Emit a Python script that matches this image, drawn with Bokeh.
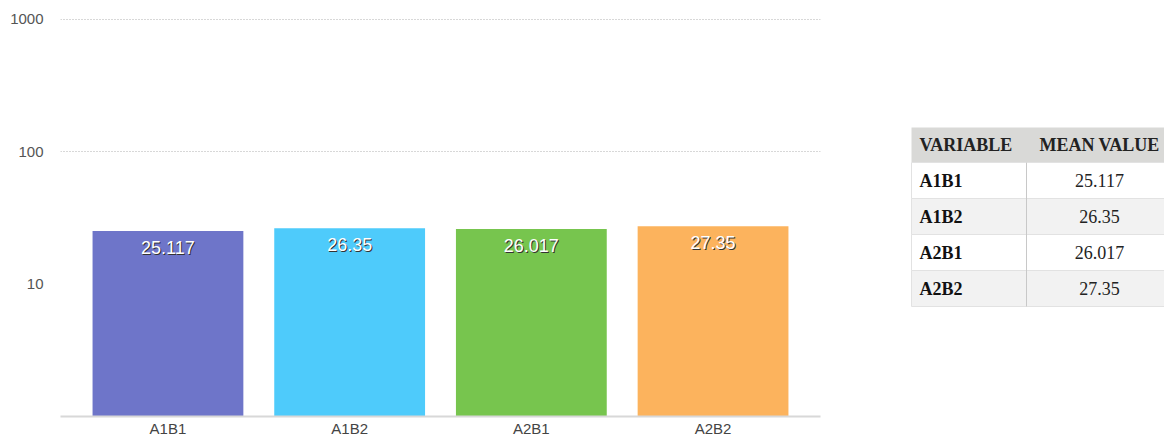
from bokeh.plotting import figure
from bokeh.layouts import row
from bokeh.models import ColumnDataSource, Range1d, FactorRange, FixedTicker, PrintfTickFormatter
from bokeh.embed import file_html
from bokeh.resources import INLINE
from bokeh.core.properties import value

# ---- data ----
categories = ["A1B1", "A1B2", "A2B1", "A2B2"]
means = [25.117, 26.35, 26.017, 27.35]
colors = ["#6e75c9", "#4ecbfb", "#77c54e", "#fcb35d"]
y_ticks = [10, 100, 1000]
grid_ticks = [100, 1000]
table_header = ["VARIABLE", "MEAN VALUE"]

labels = [f"{v:g}" for v in means]
FONT = "Liberation Sans"
SERIF = "Liberation Serif"

src = ColumnDataSource(dict(cat=categories, val=means, color=colors,
                            label=labels, bottom=[1] * len(means)))

W1, H = 890, 440
BT, BB = 18, 24
p = figure(x_range=FactorRange(*categories, range_padding=0.0457),
           y_range=Range1d(1, 1010), y_axis_type="log",
           width=W1, height=H, output_backend="svg", toolbar_location=None,
           min_border_left=60, min_border_right=70, min_border_top=BT,
           min_border_bottom=BB)
p.vbar(x="cat", top="val", bottom="bottom", width=0.83, fill_color="color",
       line_color=None, source=src)
p.text(x="cat", y="val", text="label", source=src, x_offset=1, y_offset=17.5,
       text_align="center", text_baseline="middle", text_color="#333333",
       text_font=value(FONT), text_font_size="18px")
p.text(x="cat", y="val", text="label", source=src, x_offset=0, y_offset=16,
       text_align="center", text_baseline="middle", text_color="white",
       text_font=value(FONT), text_font_size="18px")

p.outline_line_color = None
p.xgrid.visible = False
p.ygrid.ticker = FixedTicker(ticks=grid_ticks)
p.ygrid.grid_line_color = "#b0b0b0"
p.ygrid.grid_line_dash = "1 2"
p.ygrid.grid_line_width = 1
p.yaxis.ticker = FixedTicker(ticks=y_ticks)
p.yaxis.formatter = PrintfTickFormatter(format="%d")
p.yaxis.axis_line_color = None
p.yaxis.major_tick_line_color = None
p.yaxis.minor_tick_line_color = None
p.yaxis.major_tick_out = 0
p.yaxis.major_tick_in = 0
p.yaxis.minor_tick_out = 0
p.yaxis.major_label_standoff = 17
p.yaxis.major_label_text_font = FONT
p.yaxis.major_label_text_font_size = "15px"
p.yaxis.major_label_text_color = "#555555"
p.xaxis.axis_line_color = "#d8d8d8"
p.xaxis.axis_line_width = 2
p.xaxis.major_tick_line_color = None
p.xaxis.minor_tick_line_color = None
p.xaxis.major_tick_out = 0
p.xaxis.major_tick_in = 0
p.xaxis.major_label_standoff = 3
p.xaxis.major_label_text_font = FONT
p.xaxis.major_label_text_font_size = "15px"
p.xaxis.major_label_text_color = "#444444"

# ---- table (page-pixel coordinates inside a frame aligned with the chart's) ----
TW = 1164 - W1
t = figure(width=TW, height=H, x_range=Range1d(0, TW),
           y_range=Range1d(H - BB, BT),
           output_backend="svg", toolbar_location=None, min_border=0,
           min_border_top=BT, min_border_bottom=BB)
t.axis.visible = False
t.grid.visible = False
t.outline_line_color = None

x0, xd, x1 = 21, 136, 290
top0, hh, rh = 127, 35, 36
n = len(categories)
t.quad(left=[x0], right=[x1], top=[top0], bottom=[top0 + hh],
       fill_color="#d9d9d7", line_color=None)
row_tops = [top0 + hh + i * rh for i in range(n)]
row_bots = [rt + rh for rt in row_tops]
row_fill = ["#ffffff" if i % 2 == 0 else "#f2f2f2" for i in range(n)]
t.quad(left=[x0] * n, right=[xd] * n, top=row_tops, bottom=row_bots,
       fill_color=row_fill, line_color="#e2e2e2", line_width=1)
t.quad(left=[xd] * n, right=[x1] * n, top=row_tops, bottom=row_bots,
       fill_color=row_fill, line_color="#e2e2e2", line_width=1)
t.segment(x0=[xd], y0=[top0 + hh], x1=[xd], y1=[row_bots[-1]],
          line_color="#c8c8c8", line_width=1)

hy = top0 + hh / 2
cx1, cx2 = 29, 209
t.text(x=[cx1], y=[hy], text=[table_header[0]], text_align="left",
       text_baseline="middle", text_font=value(SERIF),
       text_font_style="bold", text_font_size="18px", text_color="#222222")
t.text(x=[cx2], y=[hy], text=[table_header[1]], text_align="center",
       text_baseline="middle", text_font=value(SERIF),
       text_font_style="bold", text_font_size="18px", text_color="#222222")
mids = [rt + rh / 2 for rt in row_tops]
t.text(x=[cx1] * n, y=mids, text=categories, text_align="left",
       text_baseline="middle", text_font=value(SERIF),
       text_font_style="bold", text_font_size="18px", text_color="#111111")
t.text(x=[cx2] * n, y=mids, text=labels, text_align="center",
       text_baseline="middle", text_font=value(SERIF),
       text_font_size="18px", text_color="#222222")

layout = row(p, t)
open("out.html", "w").write(file_html(layout, INLINE))
